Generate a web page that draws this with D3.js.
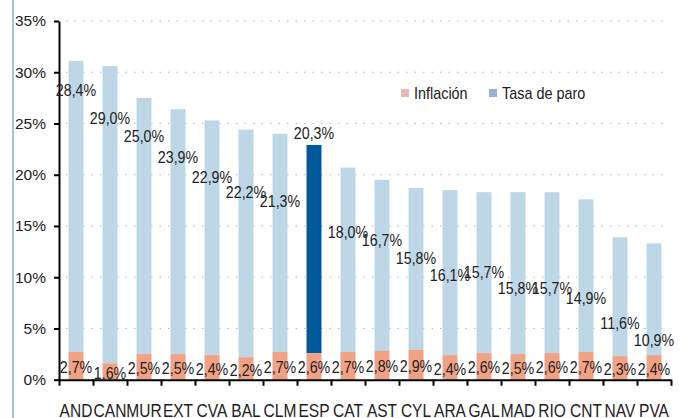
<!DOCTYPE html>
<html>
<head>
<meta charset="utf-8">
<script src="https://cdn.jsdelivr.net/npm/d3@7"></script>
<style>
  body { margin: 0; background: #fff; }
  svg { display: block; font-family: "Liberation Sans", Arial, sans-serif; }
</style>
</head>
<body>
<div id="chart"></div>
<script>
// regions (CCAA) sorted by tasa de paro
let regions = ['AND', 'CAN', 'MUR', 'EXT', 'CVA', 'BAL', 'CLM', 'ESP', 'CAT', 'AST', 'CYL', 'ARA', 'GAL', 'MAD', 'RIO', 'CNT', 'NAV', 'PVA'];
let inflacion = [2.7, 1.6, 2.5, 2.5, 2.4, 2.2, 2.7, 2.6, 2.7, 2.8, 2.9, 2.4, 2.6, 2.5, 2.6, 2.7, 2.3, 2.4];
let paro = [28.4, 29.0, 25.0, 23.9, 22.9, 22.2, 21.3, 20.3, 18.0, 16.7, 15.8, 16.1, 15.7, 15.8, 15.7, 14.9, 11.6, 10.9];
// where the paro labels sit in the picture (in % units)
let paroLabelAt = [28.2, 25.5, 23.7, 21.7, 19.75, 18.3, 17.4, 24.0, 14.4, 13.6, 11.8, 10.2, 10.5, 8.9, 8.9, 7.9, 5.5, 3.8];
let yTicks = [0, 5, 10, 15, 20, 25, 30, 35];
let legendItems = ['Inflación', 'Tasa de paro'];

let width = 688,
  height = 418,
  margin = {top: 21, left: 59, right: 17, bottom: 38};

let svg = d3.select('#chart')
  .append('svg')
  .attr('width', width)
  .attr('height', height);

// thin blue frame line on the left
svg.append('line')
  .attr('x1', 13).attr('x2', 13)
  .attr('y1', 0).attr('y2', height)
  .style('stroke', '#7fb0d6')
  .style('stroke-width', 1.5);

let yScale = d3.scaleLinear()
  .domain([0, 35])
  .range([height - margin.bottom - 0.3, margin.top]);

let xScale = d3.scaleBand()
  .domain(regions)
  .range([margin.left, width - margin.right])
  .paddingInner(0.56)
  .paddingOuter(0.28);

// dotted grid
svg.append('g')
  .selectAll('line')
  .data(yTicks.filter(d => d > 0))
  .enter()
  .append('line')
  .attr('x1', margin.left + 7)
  .attr('x2', width - 21)
  .attr('y1', d => yScale(d))
  .attr('y2', d => yScale(d))
  .style('stroke', '#b8b8b8')
  .style('stroke-width', 1)
  .style('stroke-dasharray', '1.5,7');

let data = regions.map(function(r, i) {
  return {region: r, inf: inflacion[i], paro: paro[i], labelAt: paroLabelAt[i]};
});

// paro bars, stacked on top of inflation
svg.append('g')
  .selectAll('rect')
  .data(data)
  .enter()
  .append('rect')
  .attr('x', d => xScale(d.region))
  .attr('width', xScale.bandwidth())
  .attr('y', d => yScale(d.inf + d.paro))
  .attr('height', d => yScale(d.inf) - yScale(d.inf + d.paro))
  .attr('fill', d => d.region == 'ESP' ? '#00589c' : '#bed7e7');

// inflation bars
svg.append('g')
  .selectAll('rect')
  .data(data)
  .enter()
  .append('rect')
  .attr('x', d => xScale(d.region))
  .attr('width', xScale.bandwidth())
  .attr('y', d => yScale(d.inf))
  .attr('height', d => yScale(0) - yScale(d.inf))
  .attr('fill', '#f1a184');

// y axis
let yAxis = svg.append('g')
  .attr('transform', `translate(${margin.left},0)`)
  .call(d3.axisLeft(yScale).tickValues(yTicks).tickFormat(d => d + '%').tickSize(5).tickSizeOuter(0));
yAxis.select('.domain').style('stroke', '#000').style('stroke-width', 2);
yAxis.selectAll('.tick line').style('stroke', '#000').style('stroke-width', 2);
yAxis.selectAll('.tick text')
  .attr('x', -13)
  .style('font-size', '15.5px')
  .style('fill', '#222')
  .style('font-family', '"Liberation Sans", Arial, sans-serif');

// x axis, ticks between the bars
let xEdge = d3.scaleLinear()
  .domain([0, regions.length])
  .range([margin.left, width - margin.right]);
let xAxis = svg.append('g')
  .attr('transform', `translate(0,${yScale(0)})`)
  .call(d3.axisBottom(xEdge).ticks(regions.length).tickFormat('').tickSize(6).tickSizeOuter(0));
xAxis.select('.domain').style('stroke', '#000').style('stroke-width', 2);
xAxis.selectAll('.tick line').style('stroke', '#000').style('stroke-width', 2);

// region names, a bit narrow
svg.append('g')
  .selectAll('text')
  .data(regions)
  .enter()
  .append('text')
  .attr('transform', d => `translate(${xScale(d) + xScale.bandwidth() / 2},417) scale(0.84,1)`)
  .attr('text-anchor', 'middle')
  .style('font-size', '18.5px')
  .style('fill', '#222')
  .text(d => d);

let fmt = v => v.toFixed(1).replace('.', ',') + '%';

// inflation labels
svg.append('g')
  .selectAll('text')
  .data(data)
  .enter()
  .append('text')
  .attr('transform', d => `translate(${xScale(d.region) + xScale.bandwidth() / 2},${yScale(d.inf / 2) + 1.5}) scale(0.89,1)`)
  .attr('dy', '0.35em')
  .attr('text-anchor', 'middle')
  .style('font-size', '16px')
  .style('fill', '#222')
  .text(d => fmt(d.inf));

// paro labels
svg.append('g')
  .selectAll('text')
  .data(data)
  .enter()
  .append('text')
  .attr('transform', d => `translate(${xScale(d.region) + xScale.bandwidth() / 2},${yScale(d.labelAt)}) scale(0.89,1)`)
  .attr('dy', '0.35em')
  .attr('text-anchor', 'middle')
  .style('font-size', '16px')
  .style('fill', '#222')
  .text(d => fmt(d.paro));

// legend
let legend = svg.append('g')
  .selectAll('g')
  .data(legendItems)
  .enter()
  .append('g')
  .attr('transform', (d, i) => `translate(${401 + i * 88},89)`);
legend.append('rect')
  .attr('width', 8)
  .attr('height', 8)
  .attr('fill', (d, i) => i == 0 ? '#e6b9b8' : '#95b3d7');
legend.append('text')
  .attr('transform', 'translate(13,4) scale(0.9,1)')
  .attr('dy', '0.35em')
  .style('font-size', '16px')
  .style('fill', '#222')
  .text(d => d);
</script>
</body>
</html>
